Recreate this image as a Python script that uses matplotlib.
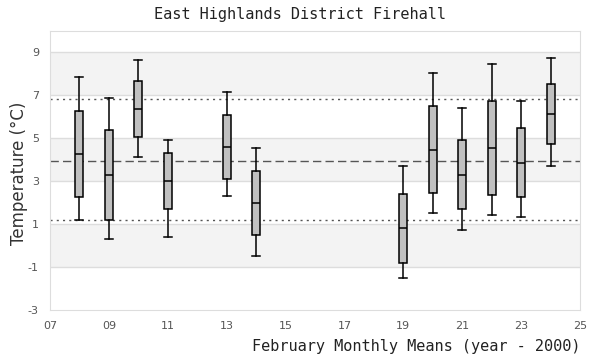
import numpy as np
import matplotlib.pyplot as plt

plt.rcParams['axes.unicode_minus'] = False

# February monthly means (year - 2000) : box stats
years = [8, 9, 10, 11, 13, 14, 19, 20, 21, 22, 23, 24]
whis_lo = [1.18, 0.29, 4.11, 0.38, 2.31, -0.50, -1.52, 1.50, 0.71, 1.41, 1.32, 3.69]
q1 = [2.25, 1.18, 5.04, 1.69, 3.09, 0.48, -0.83, 2.43, 1.69, 2.34, 2.25, 4.72]
med = [4.25, 3.27, 6.35, 2.99, 4.58, 1.97, 0.80, 4.44, 3.27, 4.53, 3.83, 6.11]
q3 = [6.27, 5.41, 7.65, 4.30, 6.07, 3.50, 2.39, 6.49, 4.90, 6.76, 5.46, 7.51]
whis_hi = [7.84, 6.90, 8.63, 4.90, 7.14, 4.53, 3.69, 8.02, 6.39, 8.44, 6.72, 8.72]

mean_line = 3.92
sd_lines = [6.81, 1.18]

xticks = list(range(7, 26, 2))
yticks = list(range(-3, 10, 2))
bands = [(-1, 1), (3, 5), (7, 9)]

fig = plt.figure(figsize=(6, 3.6), dpi=100)
ax = fig.add_axes([50 / 600, 1 - 310 / 360, 530 / 600, 279 / 360])

for lo, hi in bands:
    ax.axhspan(lo, hi, color='#f3f3f3', zorder=0, lw=0)
for y in yticks[1:]:
    ax.axhline(y, color='#dddddd', lw=1, zorder=1)

ax.axhline(mean_line, color='#555555', lw=1, ls=(0, (6, 3)), zorder=2)
for y in sd_lines:
    ax.axhline(y, color='#555555', lw=1, ls=(0, (1.5, 3)), zorder=2)

stats = []
for i in range(len(years)):
    stats.append(dict(whislo=whis_lo[i], q1=q1[i], med=med[i], q3=q3[i],
                      whishi=whis_hi[i], fliers=[]))
ax.bxp(stats, positions=years, widths=0.27, patch_artist=True,
       showfliers=False, manage_ticks=False,
       boxprops=dict(facecolor='#c0c0c0', edgecolor='black', lw=1.1),
       medianprops=dict(color='black', lw=1.1),
       whiskerprops=dict(color='black', lw=1.1),
       capprops=dict(color='black', lw=1.1),
       capwidths=0.27, zorder=3)

ax.set_xlim(7, 25)
ax.set_ylim(-3, 10)
ax.set_xticks(xticks)
ax.set_xticklabels([f'{x:02d}' for x in xticks])
ax.set_yticks(yticks)
ax.tick_params(length=0, labelsize=8, colors='#555555', pad=8)
for s in ax.spines.values():
    s.set_color('#dddddd')

fig.text(0.5, 1 - 15 / 360, 'East Highlands District Firehall', ha='center',
         va='center', family='DejaVu Sans Mono', fontsize=11, color='#222222')
fig.text(580 / 600, 1 - 347 / 360, 'February Monthly Means (year - 2000)',
         ha='right', va='center', family='DejaVu Sans Mono', fontsize=11,
         color='#222222')
fig.text(19 / 600, 1 - 173 / 360, 'Temperature (°C)', rotation=90,
         ha='center', va='center', fontsize=12, color='#333333')

fig.savefig('out.png', dpi=100)
